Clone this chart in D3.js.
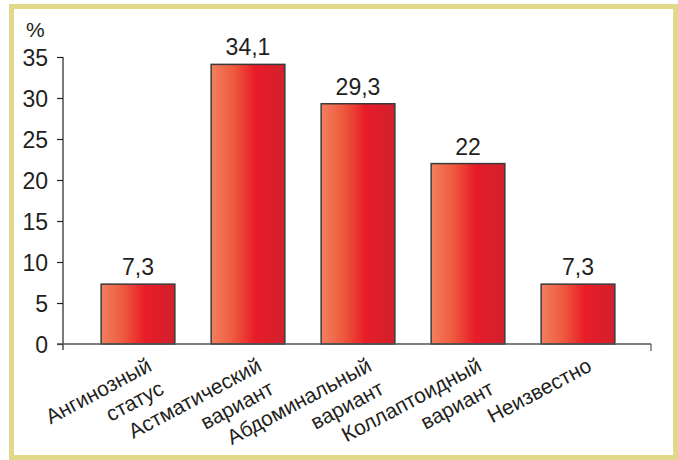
<!DOCTYPE html>
<html>
<head>
<meta charset="utf-8">
<script src="https://cdn.jsdelivr.net/npm/d3@7"></script>
<style>
  html, body { margin: 0; padding: 0; background: #fff; }
  svg text { font-family: "Liberation Sans Narrow", "Arial Narrow", "Liberation Sans", sans-serif; fill: #231f20; }
</style>
</head>
<body>
<svg id="chart" width="678" height="460"></svg>
<script>
/* Варианты клинического течения, % */
const categories = [
    ['Ангинозный', 'статус'],
    ['Астматический', 'вариант'],
    ['Абдоминальный', 'вариант'],
    ['Коллаптоидный', 'вариант'],
    ['Неизвестно']
];
const values = [7.3, 34.1, 29.3, 22, 7.3];
const valueLabels = ['7,3', '34,1', '29,3', '22', '7,3'];
const yTicks = [0, 5, 10, 15, 20, 25, 30, 35];

const svg = d3.select('#chart');

// frame
svg.append('rect')
    .attr('x', 11.5).attr('y', 6.5)
    .attr('width', 664).attr('height', 451)
    .attr('fill', '#fff')
    .attr('stroke', '#e2d88a')
    .attr('stroke-width', 5);

const axisLeft = 63, axisRight = 651;
const y = d3.scaleLinear().domain([0, 35]).range([344, 57]);
const x = d3.scaleBand()
    .domain(categories.map((c, i) => i))
    .range([83, 633])
    .paddingInner(0.33)
    .paddingOuter(0.165);

// gradient for bars
const defs = svg.append('defs');
const grad = defs.append('linearGradient').attr('id', 'barGrad')
    .attr('x1', '0%').attr('x2', '100%').attr('y1', '0%').attr('y2', '0%');
grad.append('stop').attr('offset', '0%').attr('stop-color', '#f2805f');
grad.append('stop').attr('offset', '30%').attr('stop-color', '#ee5a3e');
grad.append('stop').attr('offset', '60%').attr('stop-color', '#e81c28');
grad.append('stop').attr('offset', '100%').attr('stop-color', '#d0212d');

// y axis
const yAxis = d3.axisLeft(y).tickValues(yTicks).tickSize(6).tickPadding(9);
const gy = svg.append('g').attr('transform', `translate(${axisLeft},0)`).call(yAxis);
gy.select('.domain').remove();
gy.selectAll('.tick line').attr('stroke', '#231f20').attr('stroke-width', 1.2);
gy.selectAll('.tick text').style('font-size', '23px').attr('dy', '0.36em');
svg.append('line')
    .attr('x1', axisLeft).attr('x2', axisLeft)
    .attr('y1', y(35)).attr('y2', y(0) + 6)
    .attr('stroke', '#231f20').attr('stroke-width', 1.2);

svg.append('text').attr('x', 26).attr('y', 37)
    .style('font-size', '21px').text('%');

// bars
svg.append('g').selectAll('rect').data(values).enter().append('rect')
    .attr('x', (d, i) => x(i))
    .attr('y', d => y(d))
    .attr('width', x.bandwidth())
    .attr('height', d => y(0) - y(d))
    .attr('fill', 'url(#barGrad)')
    .attr('stroke', '#3a3a3a')
    .attr('stroke-width', 1.5);

// x axis line
svg.append('line')
    .attr('x1', axisLeft - 6).attr('x2', axisRight)
    .attr('y1', y(0)).attr('y2', y(0))
    .attr('stroke', '#555').attr('stroke-width', 1.6);
svg.append('line')
    .attr('x1', axisRight).attr('x2', axisRight)
    .attr('y1', y(0)).attr('y2', y(0) + 7)
    .attr('stroke', '#555').attr('stroke-width', 1.2);

// value labels
svg.append('g').selectAll('text').data(values).enter().append('text')
    .attr('x', (d, i) => x(i) + x.bandwidth() / 2)
    .attr('y', d => y(d) - 9)
    .attr('text-anchor', 'middle')
    .style('font-size', '23px')
    .text((d, i) => valueLabels[i]);

// category labels, rotated
const lab = svg.append('g').selectAll('g').data(categories).enter().append('g')
    .attr('transform', (d, i) => `translate(${x(i) + x.bandwidth() / 2 + 15},370) rotate(-28)`);
lab.selectAll('text').data(d => d).enter().append('text')
    .attr('x', 0)
    .attr('y', (d, j) => j * 26)
    .attr('text-anchor', 'end')
    .style('font-size', '21px')
    .text(d => d);
</script>
</body>
</html>
